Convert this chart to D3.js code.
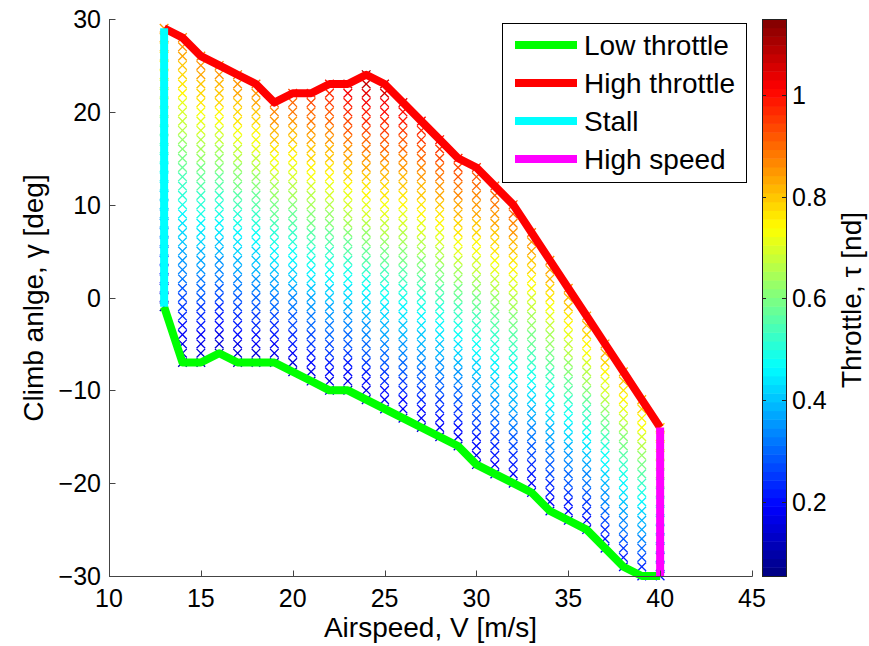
<!DOCTYPE html>
<html>
<head>
<meta charset="utf-8">
<script src="https://cdn.jsdelivr.net/npm/d3@7"></script>
<style>
  body { margin: 0; background: #fff; }
  svg text { font-family: "Liberation Sans", Arial, sans-serif; fill: #000; }
</style>
</head>
<body>
<svg id="chart" width="869" height="646"></svg>
<script>
// airspeed grid [m/s]
const airspeed = [13, 14, 15, 16, 17, 18, 19, 20, 21, 22, 23, 24, 25, 26, 27, 28, 29, 30, 31, 32, 33, 34, 35, 36, 37, 38, 39, 40];
// lowest / highest feasible climb angle at each airspeed [deg]
const gammaLow = [-1, -7, -7, -6, -7, -7, -7, -8, -9, -10, -10, -11, -12, -13, -14, -15, -16, -18, -19, -20, -21, -23, -24, -25, -27, -29, -30, -30];
const gammaHigh = [29, 28, 26, 25, 24, 23, 21, 22, 22, 23, 23, 24, 23, 21, 19, 17, 15, 14, 12, 10, 7, 4, 1, -2, -5, -8, -11, -14];
const tauLow = [0.12, 0.12, 0.12, 0.12, 0.12, 0.13, 0.13, 0.13, 0.14, 0.14, 0.14, 0.14, 0.15, 0.15, 0.15, 0.15, 0.15, 0.15, 0.16, 0.16, 0.16, 0.16, 0.17, 0.17, 0.18, 0.19, 0.2, 0.22];
const tauHigh = [0.85, 0.87, 0.87, 0.87, 0.88, 0.88, 0.9, 0.93, 0.96, 1.0, 1.05, 1.1, 1.08, 1.03, 1.0, 0.98, 0.97, 0.95, 0.93, 0.92, 0.88, 0.86, 0.85, 0.84, 0.84, 0.83, 0.82, 0.8];

const xTicks = [10, 15, 20, 25, 30, 35, 40, 45];
const yTicks = [-30, -20, -10, 0, 10, 20, 30];
const cTicks = [0.2, 0.4, 0.6, 0.8, 1];
const tauRange = [0.0545, 1.149];

const legendItems = [
  {label: 'Low throttle', color: '#00ff00'},
  {label: 'High throttle', color: '#ff0000'},
  {label: 'Stall', color: '#00ffff'},
  {label: 'High speed', color: '#ff00ff'}
];

const svg = d3.select('#chart');
const x = d3.scaleLinear().domain([10, 45]).range([109, 752]);
const y = d3.scaleLinear().domain([-30, 30]).range([576, 19]);
const cy = d3.scaleLinear().domain(tauRange).range([576, 19]);

// matlab jet, 64 levels
function jet(f) {
  const c = v => Math.round(255 * Math.max(0, Math.min(1, v)));
  return `rgb(${c(1.5 - Math.abs(4 * f - 3))},${c(1.5 - Math.abs(4 * f - 2))},${c(1.5 - Math.abs(4 * f - 1))})`;
}
const jetColors = d3.range(64).map(i => jet((i + 0.5) / 64));
const color = d3.scaleQuantize().domain(tauRange).range(jetColors);

// markers, one every degree in each column
const pts = [];
airspeed.forEach((v, i) => {
  for (let g = gammaLow[i]; g <= gammaHigh[i]; g++) {
    const t = tauLow[i] + (tauHigh[i] - tauLow[i]) * (g - gammaLow[i]) / (gammaHigh[i] - gammaLow[i]);
    pts.push({v, g, t});
  }
});
const m = 4.3;
svg.append('g').selectAll('path')
  .data(pts)
  .join('path')
  .attr('transform', d => `translate(${x(d.v)},${y(d.g)})`)
  .attr('d', `M${-m},${-m}L${m},${m}M${-m},${m}L${m},${-m}`)
  .attr('stroke', d => color(d.t))
  .attr('stroke-width', 1.3)
  .attr('fill', 'none');

// boundary lines
const line = d3.line().x(d => x(d[0])).y(d => y(d[1]));
const lw = 8;
const lines = [
  airspeed.map((v, i) => [v, gammaLow[i]]),
  airspeed.map((v, i) => [v, gammaHigh[i]]),
  [[airspeed[0], gammaLow[0]], [airspeed[0], gammaHigh[0]]],
  [[airspeed[airspeed.length - 1], gammaLow[gammaLow.length - 1]], [airspeed[airspeed.length - 1], gammaHigh[gammaHigh.length - 1]]]
];
lines.forEach((pts, i) => {
  svg.append('path')
    .attr('d', line(pts))
    .attr('fill', 'none')
    .attr('stroke', legendItems[i].color)
    .attr('stroke-width', lw)
    .attr('stroke-linejoin', 'round');
});

// axes (box off, ticks inside)
const ax = svg.append('g').attr('stroke', '#444').attr('stroke-width', 1).attr('fill', 'none');
ax.append('line').attr('x1', 109.5).attr('x2', 109.5).attr('y1', 19).attr('y2', 576.5);
ax.append('line').attr('x1', 109).attr('x2', 752.5).attr('y1', 576.5).attr('y2', 576.5);
yTicks.forEach(t => {
  ax.append('line').attr('x1', 109.5).attr('x2', 115.5).attr('y1', Math.round(y(t)) + 0.5).attr('y2', Math.round(y(t)) + 0.5);
});
xTicks.forEach(t => {
  ax.append('line').attr('x1', Math.round(x(t)) + 0.5).attr('x2', Math.round(x(t)) + 0.5).attr('y1', 576.5).attr('y2', 570.5);
});

svg.append('g').selectAll('text').data(yTicks).join('text')
  .attr('x', 101).attr('y', d => y(d)).attr('dy', '0.36em')
  .attr('text-anchor', 'end').style('font-size', '25px')
  .text(d => d < 0 ? '\u2212' + Math.abs(d) : d);
svg.append('g').selectAll('text').data(xTicks).join('text')
  .attr('x', d => x(d)).attr('y', 607)
  .attr('text-anchor', 'middle').style('font-size', '25px')
  .text(d => d);

svg.append('text')
  .attr('x', 430.5).attr('y', 637)
  .attr('text-anchor', 'middle').style('font-size', '28px')
  .text('Airspeed, V [m/s]');
svg.append('text')
  .attr('transform', 'translate(43,298) rotate(-90)')
  .attr('text-anchor', 'middle').style('font-size', '28px')
  .text('Climb anlge, \u03b3 [deg]');

// colorbar
const cb = svg.append('g');
const step = (tauRange[1] - tauRange[0]) / 64;
cb.selectAll('rect').data(jetColors).join('rect')
  .attr('x', 762).attr('width', 24)
  .attr('y', (d, i) => cy(tauRange[0] + (i + 1) * step))
  .attr('height', cy(tauRange[0]) - cy(tauRange[0] + step) + 0.5)
  .attr('fill', d => d);
cb.append('rect').attr('x', 762.5).attr('y', 19.5).attr('width', 24).attr('height', 557)
  .attr('fill', 'none').attr('stroke', '#222');
cTicks.forEach(t => {
  const yy = Math.round(cy(t)) + 0.5;
  cb.append('line').attr('x1', 762).attr('x2', 766).attr('y1', yy).attr('y2', yy).attr('stroke', '#222');
  cb.append('line').attr('x1', 782).attr('x2', 786).attr('y1', yy).attr('y2', yy).attr('stroke', '#222');
});
cb.selectAll('text').data(cTicks).join('text')
  .attr('x', 792).attr('y', d => cy(d)).attr('dy', '0.36em')
  .style('font-size', '25px')
  .text(d => d);
svg.append('text')
  .attr('transform', 'translate(861,300) rotate(-90)')
  .attr('text-anchor', 'middle').style('font-size', '28px')
  .text('Throttle, \u03c4 [nd]');

// legend
const lg = svg.append('g');
lg.append('rect').attr('x', 502.5).attr('y', 23.5).attr('width', 244).attr('height', 159)
  .attr('fill', '#fff').attr('stroke', '#000');
const rowY = d3.scalePoint().domain(legendItems.map(d => d.label)).range([45, 159]);
legendItems.forEach(d => {
  lg.append('line').attr('x1', 515).attr('x2', 577)
    .attr('y1', rowY(d.label)).attr('y2', rowY(d.label))
    .attr('stroke', d.color).attr('stroke-width', lw);
  lg.append('text').attr('x', 584).attr('y', rowY(d.label)).attr('dy', '0.36em')
    .style('font-size', '28px').text(d.label);
});
</script>
</body>
</html>
